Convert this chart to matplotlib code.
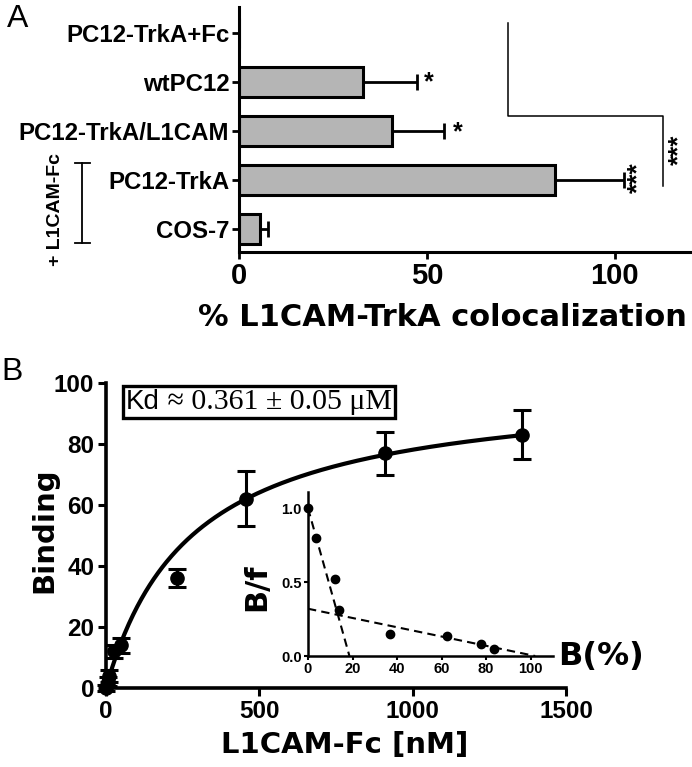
import matplotlib
matplotlib.use("Agg")
import matplotlib.pyplot as plt
import numpy as np
from matplotlib.lines import Line2D
from matplotlib.offsetbox import TextArea, HPacker, AnchoredOffsetbox

# ---------------- data ----------------
# Panel A (listed bottom -> top)
cats_a = ["COS-7", "PC12-TrkA", "PC12-TrkA/L1CAM", "wtPC12", "PC12-TrkA+Fc"]
vals_a = [5.6, 84.1, 40.6, 33.0, 0.0]
errs_a = [2.0, 18.3, 14.0, 14.4, 0.0]
xticks_a = [0, 50, 100]

# Panel B main
conc_b = [0, 5, 10, 25, 50, 230, 455, 910, 1355]
bind_b = [0, 2, 4, 12, 14, 36, 62, 77, 83]
berr_b = [1.0, 1.5, 2.0, 2.0, 2.5, 3.0, 9.0, 7.0, 8.0]
fit_bmax = 100.0
fit_kd = 280.0
xticks_b = [0, 500, 1000, 1500]
yticks_b = [0, 20, 40, 60, 80, 100]

# Panel B inset (Scatchard)
sc_b = [0, 3.6, 12, 14, 36.6, 62.6, 77.6, 83.6]
sc_bf = [1.0, 0.80, 0.52, 0.31, 0.15, 0.133, 0.08, 0.05]
steep_x = [0, 18.6]
steep_y = [1.0, 0.0]
shallow_x = [0, 102]
shallow_y = [0.32, 0.0]
xticks_in = [0, 20, 40, 60, 80, 100]
yticks_in = [0.0, 0.5, 1.0]

W, H = 692, 767
fig = plt.figure(figsize=(W / 100, H / 100), dpi=100)

def fx(px):
    return px / W

def fy(py):
    return 1 - py / H

SANS = "Liberation Sans"
BOLDT = "DejaVu Sans"

# ---------------- Panel A ----------------
axA = fig.add_axes([fx(239), fy(252), fx(690) - fx(239), fy(7) - fy(252)])
ypos = np.arange(len(cats_a))
axA.barh(ypos, vals_a, height=0.6, color="#b5b5b5", edgecolor="black", linewidth=2.2, zorder=2)
for y, v, e in zip(ypos, vals_a, errs_a):
    if e > 0:
        axA.errorbar(v, y, xerr=[[0], [e]], fmt="none", ecolor="black",
                     elinewidth=2.0, capsize=5.5, capthick=2.0, zorder=1)
axA.set_xlim(0, 120)
axA.set_ylim(-0.47, 4.53)
axA.set_yticks(ypos)
axA.set_yticklabels(cats_a, fontfamily=SANS, fontweight="bold", fontsize=17.3)
axA.set_xticks(xticks_a)
axA.set_xticklabels([str(t) for t in xticks_a], fontfamily=SANS, fontweight="bold", fontsize=21)
for s in ["top", "right"]:
    axA.spines[s].set_visible(False)
for s in ["left", "bottom"]:
    axA.spines[s].set_linewidth(2.2)
axA.tick_params(axis="both", direction="out", length=5, width=2, pad=2)

# significance markers
axA.text(50.6, 3.0, "*", ha="center", va="center", fontsize=18, fontweight="bold", fontfamily=SANS)
axA.text(58.2, 1.98, "*", ha="center", va="center", fontsize=18, fontweight="bold", fontfamily=SANS)
axA.text(106.2, 1.04, "***", ha="center", va="center", fontsize=19, fontweight="bold",
         fontfamily=SANS, rotation=90)
axA.text(117.2, 1.61, "***", ha="center", va="center", fontsize=18.5, fontweight="bold",
         fontfamily=SANS, rotation=90, clip_on=False)
axA.plot([71.5, 71.5, 112.8, 112.8], [4.2, 2.31, 2.31, 0.88], color="black", lw=1.1,
         clip_on=False, zorder=3)

fig.text(fx(442), fy(317), "% L1CAM-TrkA colocalization", ha="center", va="center",
         fontfamily=BOLDT, fontweight="bold", fontsize=22)
fig.text(fx(18), fy(19), "A", ha="center", va="center", fontfamily=SANS, fontsize=23)

# + L1CAM-Fc bracket
fig.add_artist(Line2D([fx(82), fx(82)], [fy(163), fy(243)], color="black", lw=1.3))
fig.add_artist(Line2D([fx(75), fx(90)], [fy(163), fy(163)], color="black", lw=1.3))
fig.add_artist(Line2D([fx(75), fx(90)], [fy(243), fy(243)], color="black", lw=1.3))
fig.text(fx(56), fy(210), "+ L1CAM-Fc", ha="center", va="center", rotation=90,
         fontfamily=SANS, fontweight="bold", fontsize=14)

# ---------------- Panel B ----------------
axB = fig.add_axes([fx(106), fy(688), fx(566) - fx(106), fy(383) - fy(688)])
xs = np.linspace(0, conc_b[-1], 400)
axB.plot(xs, fit_bmax * xs / (fit_kd + xs), color="black", lw=3.0, zorder=3, clip_on=False)
axB.errorbar(conc_b, bind_b, yerr=berr_b, fmt="o", color="black", ms=9.5,
             elinewidth=2.2, capsize=6.5, capthick=2.2, zorder=4, clip_on=False)
axB.set_xlim(0, 1500)
axB.set_ylim(0, 100)
axB.set_xticks(xticks_b)
axB.set_xticklabels([str(t) for t in xticks_b], fontfamily=SANS, fontweight="bold", fontsize=17.5)
axB.set_yticks(yticks_b)
axB.set_yticklabels([str(t) for t in yticks_b], fontfamily=SANS, fontweight="bold", fontsize=17.5)
for s in ["top", "right"]:
    axB.spines[s].set_visible(False)
for s in ["left", "bottom"]:
    axB.spines[s].set_linewidth(2.6)
axB.tick_params(axis="both", direction="out", length=5.5, width=2.2, pad=3)

fig.text(fx(345), fy(745), "L1CAM-Fc [nM]", ha="center", va="center",
         fontfamily=BOLDT, fontweight="bold", fontsize=21)
fig.text(fx(44), fy(530), "Binding", ha="center", va="center", rotation=90,
         fontfamily=BOLDT, fontweight="bold", fontsize=21)
fig.text(fx(12), fy(372), "B", ha="center", va="center", fontfamily=SANS, fontsize=23)

# Kd box
t1 = TextArea("Kd", textprops=dict(fontfamily=SANS, fontsize=20))
t2 = TextArea(" \u2248 0.361 \u00b1 0.05 \u03bcM", textprops=dict(fontfamily="Liberation Serif", fontsize=21.5))
pack = HPacker(children=[t1, t2], align="baseline", pad=0, sep=0)
box = AnchoredOffsetbox(loc="center", child=pack, pad=0.25, frameon=True,
                        bbox_to_anchor=(fx(259), fy(402)), bbox_transform=fig.transFigure,
                        borderpad=0)
box.patch.set_linewidth(2.4)
box.patch.set_edgecolor("black")
box.patch.set_boxstyle("square", pad=0)
fig.add_artist(box)

# ---------------- Inset ----------------
axI = fig.add_axes([fx(308), fy(656), fx(553) - fx(308), fy(492) - fy(656)])
axI.patch.set_alpha(0)
axI.plot(steep_x, steep_y, ls=(0, (4, 2.5)), color="black", lw=1.5)
axI.plot(shallow_x, shallow_y, ls=(0, (4, 2.5)), color="black", lw=1.5)
axI.plot(sc_b, sc_bf, "o", color="black", ms=6, clip_on=False, zorder=4)
axI.set_xlim(0, 110)
axI.set_ylim(0, 1.11)
axI.set_xticks(xticks_in)
axI.set_xticklabels([str(t) for t in xticks_in], fontfamily=SANS, fontweight="bold", fontsize=10.5)
axI.set_yticks(yticks_in)
axI.set_yticklabels(["%.1f" % t for t in yticks_in], fontfamily=SANS, fontweight="bold", fontsize=10.5)
for s in ["top", "right"]:
    axI.spines[s].set_visible(False)
for s in ["left", "bottom"]:
    axI.spines[s].set_linewidth(1.8)
axI.tick_params(axis="both", direction="out", length=3, width=1.5, pad=1.5)

fig.text(fx(558), fy(657), "B(%)", ha="left", va="center",
         fontfamily=BOLDT, fontweight="bold", fontsize=23)
fig.text(fx(257), fy(587), "B/f", ha="center", va="center", rotation=90,
         fontfamily=BOLDT, fontweight="bold", fontsize=22)

fig.savefig("out.png", dpi=100)
